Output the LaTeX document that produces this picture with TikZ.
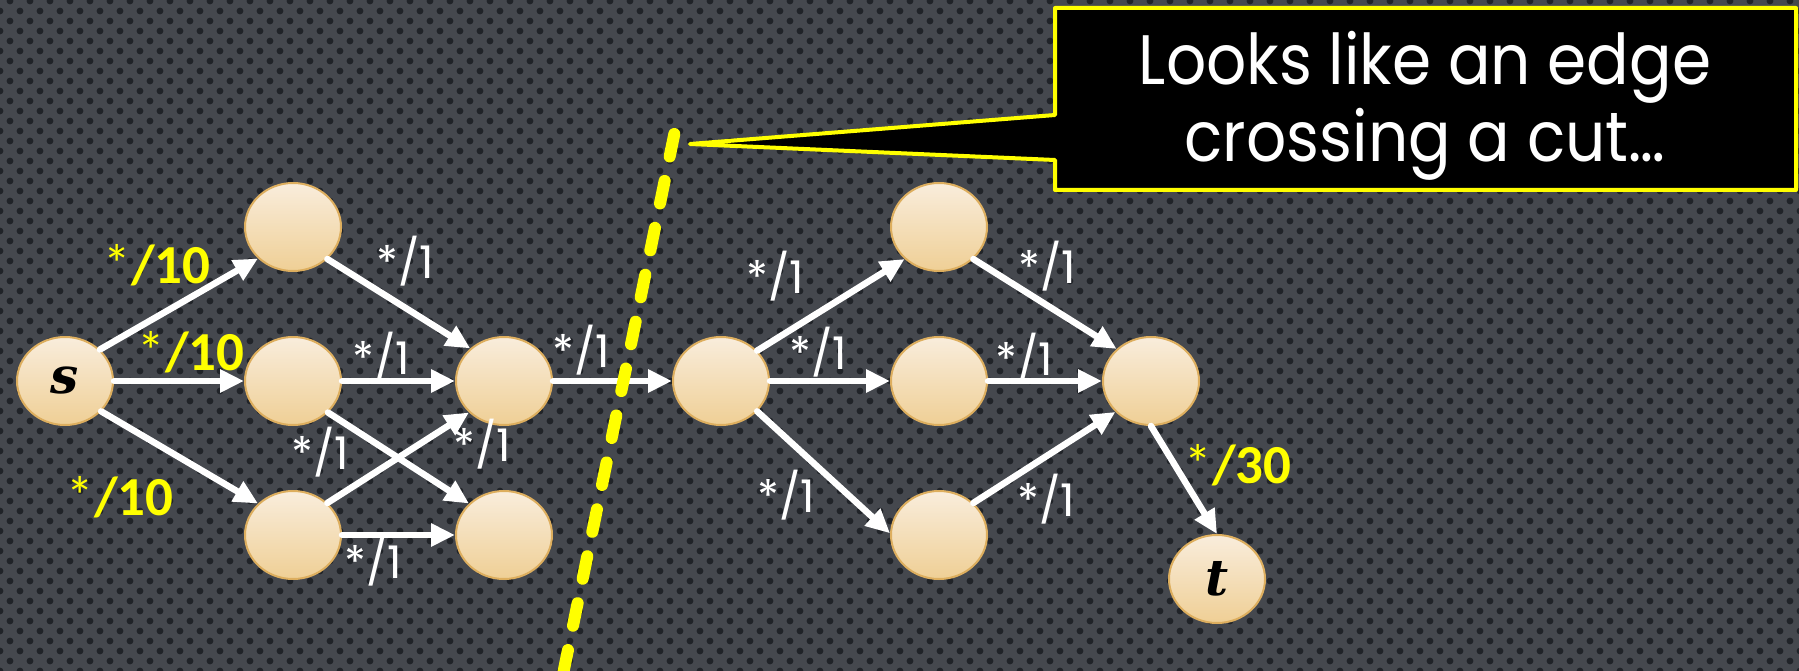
\documentclass[tikz,border=0pt]{standalone}
\usepackage{fontspec}
\newfontfamily\popfont{Poppins}
\newfontfamily\calfont{Carlito}
\newfontfamily\serifbi{DejaVu Serif}
\usetikzlibrary{arrows.meta,shapes.geometric,patterns.meta}
\definecolor{bgcol}{HTML}{45484E}
\definecolor{dotcol}{HTML}{202328}
\definecolor{nodetop}{HTML}{F9EDDC}
\definecolor{nodebot}{HTML}{EFCF95}
\definecolor{nodeborder}{HTML}{DDAE5E}
\definecolor{hiyellow}{HTML}{FFFF00}
\tikzset{
  vertex/.style={ellipse, minimum width=96pt, minimum height=88pt, inner sep=0pt,
    draw=nodeborder, line width=2pt, top color=nodetop, bottom color=nodebot,
    font=\serifbi\fontsize{50}{50}\selectfont\bfseries\itshape},
  flow/.style={draw=white, line width=6.5pt, line cap=round,
    -{Triangle[length=24pt,width=22pt]}},
  wlab/.style={text=white, inner sep=0pt,
    font=\popfont\fontsize{45}{45}\selectfont},
  ylab/.style={text=hiyellow, inner sep=0pt,
    font=\calfont\fontsize{55}{55}\selectfont},
  cutline/.style={draw=hiyellow, line width=12pt, line cap=round,
    dash pattern=on 23pt off 24.9pt},
  calloutshape/.style={fill=black, draw=hiyellow, line width=4pt, line join=round},
  notetext/.style={text=white, inner sep=0pt,
    font=\popfont\fontsize{70}{77}\selectfont},
}
\newcommand{\ylabtext}[1]{*{\bfseries/#1}}
\begin{document}
\begin{tikzpicture}[x=1pt,y=-1pt]
  % background
  \useasboundingbox (0,0) rectangle (1799,671);
  \fill[bgcol] (0,0) rectangle (1799,671);
  \fill[pattern={Dots[radius=3.4pt,distance=20pt]}, pattern color=dotcol]
    (0,0) rectangle (1799,671);
  \fill[pattern={Dots[radius=3.4pt,distance=20pt,xshift=10pt,yshift=10pt]}, pattern color=dotcol]
    (0,0) rectangle (1799,671);

  % nodes
  \node[vertex] (s)  at (65,381)  {s};
  \node[vertex] (a1) at (293,227) {};
  \node[vertex] (a2) at (293,381) {};
  \node[vertex] (a3) at (293,535) {};
  \node[vertex] (b1) at (504,381) {};
  \node[vertex] (b2) at (504,535) {};
  \node[vertex] (c)  at (721,381) {};
  \node[vertex] (d1) at (939,227) {};
  \node[vertex] (d2) at (939,381) {};
  \node[vertex] (d3) at (939,535) {};
  \node[vertex] (e)  at (1151,381) {};
  \node[vertex] (t)  at (1217,579) {t};

  % edges
  \draw[flow] (s.42) -- (a1.-138);
  \draw[flow] (s.east) -- (a2.west);
  \draw[flow] (s.-40) -- (a3.138);
  \draw[flow] (a1.-43) -- (b1.136);
  \draw[flow] (a2.east) -- (b1.west);
  \draw[flow] (a2.-42) -- (b2.138);
  \draw[flow] (a3.43) -- (b1.-138);
  \draw[flow] (a3.east) -- (b2.west);
  \draw[flow] (b1.east) -- (c.west);
  \draw[flow] (c.40) -- (d1.-137);
  \draw[flow] (c.east) -- (d2.west);
  \draw[flow] (c.-40) -- (d3.178);
  \draw[flow] (d1.-43) -- (e.137);
  \draw[flow] (d2.east) -- (e.west);
  \draw[flow] (d3.43) -- (e.-139);
  \draw[flow] (e.south) -- (t.north);

  % edge labels
  \node[ylab] (l1) at (157,265) {\ylabtext{10}};
  \node[ylab] (l2) at (191,352) {\ylabtext{10}};
  \node[ylab] (l3) at (120,497) {\ylabtext{10}};
  \node[wlab] (l4) at (405,261) {*/1};
  \node[wlab] (l5) at (381,357) {*/1};
  \node[wlab] (l6) at (320,452) {*/1};
  \node[wlab] (l7) at (482,444) {*/1};
  \node[wlab] (l8) at (373,561) {*/1};
  \node[wlab] (l9) at (581,350) {*/1};
  \node[wlab] (l10) at (775,276) {*/1};
  \node[wlab] (l11) at (818,352) {*/1};
  \node[wlab] (l12) at (786,495) {*/1};
  \node[wlab] (l13) at (1047,266) {*/1};
  \node[wlab] (l14) at (1024,358) {*/1};
  \node[wlab] (l15) at (1046,499) {*/1};
  \node[ylab] (l16) at (1238,465) {\ylabtext{30}};

  % cut
  \coordinate (cuttop) at (674.3,134);
  \coordinate (cutbot) at (558.5,696);
  \draw[cutline] (cuttop) -- (cutbot);

  % callout
  \coordinate (tip) at (690,144);
  \coordinate (bx1) at (1055,8);
  \coordinate (bx2) at (1796,8);
  \coordinate (bx3) at (1796,190);
  \coordinate (bx4) at (1055,190);
  \coordinate (bx5) at (1055,160);
  \coordinate (bx6) at (1055,115);
  \draw[calloutshape] (bx1) -- (bx2) -- (bx3) -- (bx4) -- (bx5) -- (tip) -- (bx6) -- cycle;
  \node[notetext] (note) at (1425,108)
    {\scalebox{0.90}[1]{\begin{tabular}{@{}c@{}}Looks like an edge\\crossing a cut…\end{tabular}}};
\end{tikzpicture}
\end{document}
